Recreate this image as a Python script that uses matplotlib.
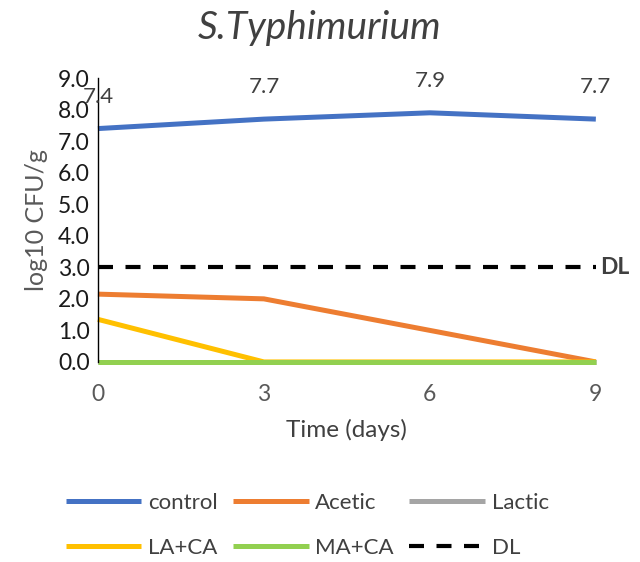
import matplotlib
matplotlib.use('Agg')
import matplotlib.pyplot as plt

plt.rcParams['font.family'] = ['Lato', 'DejaVu Sans']

# data
days = [0, 3, 6, 9]
control = [7.4, 7.7, 7.9, 7.7]
acetic = [2.15, 2.0, 1.0, 0.0]
lactic = [0.0, 0.0, 0.0, 0.0]
la_ca = [1.35, 0.0, 0.0, 0.0]
ma_ca = [0.0, 0.0, 0.0, 0.0]
dl = [3.0, 3.0, 3.0, 3.0]
control_labels = ['7.4', '7.7', '7.9', '7.7']

fig = plt.figure(figsize=(6.4, 5.62), dpi=100)
ax = fig.add_axes([0.153, 0.356, 0.778, 0.505])

lw = 3.6
kw = dict(lw=lw, solid_capstyle='butt', clip_on=False)
h_c, = ax.plot(days, control, color='#4472C4', label='control', **kw)
h_a, = ax.plot(days, acetic, color='#ED7D31', label='Acetic', **kw)
h_l, = ax.plot(days, lactic, color='#A5A5A5', label='Lactic', **kw)
h_la, = ax.plot(days, la_ca, color='#FFC000', label='LA+CA', **kw)
h_ma, = ax.plot(days, ma_ca, color='#92D050', label='MA+CA', **kw)
h_dl, = ax.plot(days, dl, color='black', lw=3.0, ls=(0, (3.6, 3.0)), label='DL',
                clip_on=False, dash_capstyle='butt')

for x, y, s in zip(days, control, control_labels):
    ax.annotate(s, (x, y), xytext=(0, 23), textcoords='offset points',
                ha='center', va='center', fontsize=16, color='#404040')

ax.text(9.08, 3.0, 'DL', fontsize=16.5, fontweight='bold', color='#404040',
        va='center', ha='left')

ax.set_xlim(0, 9)
ax.set_ylim(0, 9)
ax.set_xticks(days)
ax.set_yticks(range(0, 10))
ax.set_yticklabels([f'{v:.1f}' for v in range(0, 10)])
ax.tick_params(axis='both', length=0, labelsize=16.5)
ax.tick_params(axis='x', pad=16, colors='#595959')
ax.tick_params(axis='y', pad=6, colors='#1a1a1a')
for s in ['top', 'right', 'bottom']:
    ax.spines[s].set_visible(False)
ax.spines['left'].set_linewidth(1.0)
ax.spines['left'].set_color('black')

ax.set_xlabel('Time (days)', fontsize=17.5, color='#404040', labelpad=10)
ax.set_ylabel('log10 CFU/g', fontsize=18, color='#595959', labelpad=7)
fig.text(0.5, 0.95, 'S.Typhimurium', fontsize=28, style='italic',
         color='#404040', ha='center', va='center')

# matplotlib fills legend columns first, so interleave for row order
handles = [h_c, h_la, h_a, h_ma, h_l, h_dl]
fig.legend(handles=handles, labels=[h.get_label() for h in handles],
           loc='center', bbox_to_anchor=(0.48, 0.065), ncol=3, frameon=False,
           fontsize=16, handlelength=3.4, handletextpad=0.3, columnspacing=0.7,
           labelspacing=1.15, labelcolor='#404040')

fig.savefig('out.png', dpi=100)
